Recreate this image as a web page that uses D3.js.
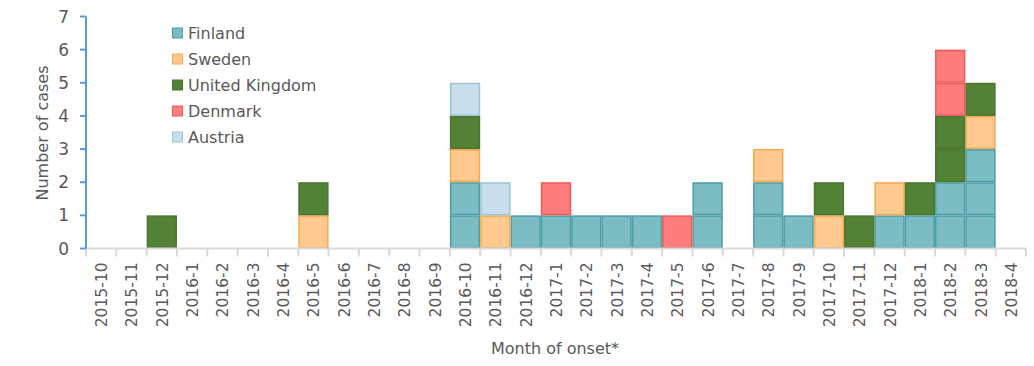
<!DOCTYPE html>
<html><head><meta charset="utf-8">
<script src="https://cdn.jsdelivr.net/npm/d3@7"></script>
<style>body{margin:0;background:#fff}svg{display:block}text{font-family:"DejaVu Sans",Verdana,sans-serif;fill:#595959}</style>
</head><body><svg id="c" width="1034" height="366"></svg>
<script>
const months = ["2015-10","2015-11","2015-12","2016-1","2016-2","2016-3","2016-4","2016-5","2016-6","2016-7","2016-8","2016-9","2016-10","2016-11","2016-12","2017-1","2017-2","2017-3","2017-4","2017-5","2017-6","2017-7","2017-8","2017-9","2017-10","2017-11","2017-12","2018-1","2018-2","2018-3","2018-4"];
const countries = ["Finland","Sweden","United Kingdom","Denmark","Austria"];
const finland = [0,0,0,0,0,0,0,0,0,0,0,0,2,0,1,1,1,1,1,0,2,0,2,1,0,0,1,1,2,3,0];
const sweden  = [0,0,0,0,0,0,0,1,0,0,0,0,1,1,0,0,0,0,0,0,0,0,1,0,1,0,1,0,0,1,0];
const uk      = [0,0,1,0,0,0,0,1,0,0,0,0,1,0,0,0,0,0,0,0,0,0,0,0,1,1,0,1,2,1,0];
const denmark = [0,0,0,0,0,0,0,0,0,0,0,0,0,0,0,1,0,0,0,1,0,0,0,0,0,0,0,0,2,0,0];
const austria = [0,0,0,0,0,0,0,0,0,0,0,0,1,1,0,0,0,0,0,0,0,0,0,0,0,0,0,0,0,0,0];
const yTicks = [0,1,2,3,4,5,6,7];
const fills = ["#7bbdc2","#ffc98f","#538135","#ff7c7c","#c9dfec"];
const strokes = ["#4d9ea8","#f4a94f","#4b7630","#ef5a5a","#9cc4d6"];

const series = [finland,sweden,uk,denmark,austria];
const table = months.map((m,i)=>{const o={month:m}; countries.forEach((c,k)=>o[c]=series[k][i]); return o;});
const stack = d3.stack().keys(countries)(table);

const svg = d3.select("#c");
const L=86, R=1026, T=16.5, B=248.5;
const x = d3.scaleBand().domain(months).range([L,R]).padding(0);
const y = d3.scaleLinear().domain([0,7]).range([B,T]);

// bars: one cell per case
stack.forEach((s,k)=>{
  const cells=[];
  s.forEach(d=>{for(let v=d[0]; v<d[1]; v++) cells.push({m:d.data.month,v0:v,v1:v+1});});
  svg.append("g").selectAll("rect").data(cells).join("rect")
    .attr("x",d=>x(d.m)+0.75).attr("width",x.bandwidth()-1.5)
    .attr("y",d=>y(d.v1)+0.75).attr("height",d=>y(d.v0)-y(d.v1)-1.5)
    .attr("fill",fills[k]).attr("stroke",strokes[k]).attr("stroke-width",1.5);
});

// x axis
const gx = svg.append("g").attr("transform",`translate(0,${B})`);
gx.append("line").attr("x1",L).attr("x2",R).attr("stroke","#d9d9d9").attr("stroke-width",2);
gx.selectAll(".t").data(months.concat(["end"])).join("line")
  .attr("x1",(d,i)=>L+i*x.bandwidth()).attr("x2",(d,i)=>L+i*x.bandwidth())
  .attr("y1",0).attr("y2",8).attr("stroke","#d9d9d9").attr("stroke-width",2);
gx.selectAll("text").data(months).join("text")
  .attr("transform",d=>`translate(${x(d)+x.bandwidth()/2+6},14) rotate(-90)`)
  .attr("text-anchor","end").attr("font-size",15.5).text(d=>d);

// y axis
const gy = svg.append("g");
gy.append("line").attr("x1",L).attr("x2",L).attr("y1",T).attr("y2",B).attr("stroke","#5b9bd5").attr("stroke-width",2);
gy.selectAll("line.t").data(yTicks).join("line").attr("class","t")
  .attr("x1",L-6).attr("x2",L).attr("y1",d=>y(d)).attr("y2",d=>y(d)).attr("stroke","#5b9bd5").attr("stroke-width",2);
gy.selectAll("text").data(yTicks).join("text")
  .attr("x",69).attr("y",d=>y(d)+6).attr("text-anchor","end").attr("font-size",17).text(d=>d);

svg.append("text").attr("transform","translate(48,133) rotate(-90)").attr("text-anchor","middle").attr("font-size",16).text("Number of cases");
svg.append("text").attr("x",555).attr("y",354).attr("text-anchor","middle").attr("font-size",16).text("Month of onset*");

// legend
const lg = svg.append("g").selectAll("g").data(countries).join("g")
  .attr("transform",(d,i)=>`translate(172,${33+i*26})`);
lg.append("rect").attr("x",0.5).attr("y",-5).attr("width",10).attr("height",10)
  .attr("fill",(d,i)=>fills[i]).attr("stroke",(d,i)=>strokes[i]);
lg.append("text").attr("x",16).attr("y",6).attr("font-size",16).text(d=>d);
</script></body></html>
